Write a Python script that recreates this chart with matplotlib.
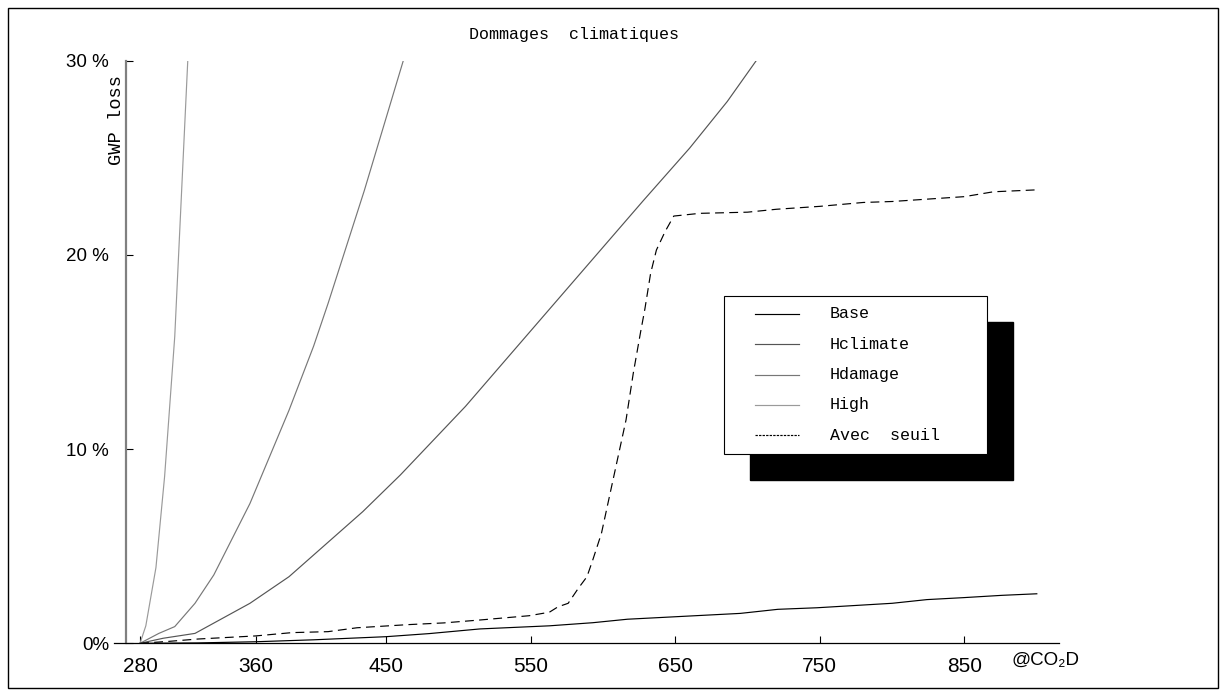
import matplotlib
matplotlib.use("Agg")
import matplotlib.pyplot as plt
from matplotlib.patches import Rectangle
from matplotlib.lines import Line2D

# data (x = CO2 ppm, y = GWP loss in %)
co2_base = [280, 320, 360, 400, 450, 480, 515, 563, 593, 617, 643, 695, 721, 748, 800, 824, 849, 876, 900]
base = [0, 0.02, 0.08, 0.18, 0.34, 0.5, 0.74, 0.9, 1.06, 1.24, 1.34, 1.54, 1.75, 1.83, 2.06, 2.25, 2.35, 2.47, 2.55]

co2_hclimate = [280, 296, 318, 356, 383, 434, 460, 505, 563, 628, 660, 686, 706]
hclimate = [0, 0.26, 0.51, 2.06, 3.43, 6.78, 8.67, 12.2, 17.2, 22.8, 25.5, 27.9, 30.0]

co2_hdamage = [280, 293, 304, 318, 331, 356, 383, 400, 410, 435, 462]
hdamage = [0, 0.51, 0.86, 2.06, 3.52, 7.2, 12.0, 15.3, 17.5, 23.3, 30.0]

co2_high = [280, 284, 291, 297, 304, 313]
high = [0, 0.9, 3.9, 8.6, 15.8, 30.0]

co2_seuil = [280, 300, 320, 340, 360, 385, 410, 430, 465, 490, 515, 549, 563, 569, 576,
             583, 589, 593, 599, 604, 610, 616, 621, 626, 629, 633, 637, 643, 649, 667,
             700, 720, 750, 780, 800, 830, 850, 870, 900]
seuil = [0, 0.1, 0.22, 0.3, 0.38, 0.55, 0.6, 0.8, 0.96, 1.05, 1.2, 1.42, 1.6, 1.88, 2.06,
         2.83, 3.43, 4.29, 5.66, 7.38, 9.44, 11.5, 13.9, 16.0, 17.2, 19.05, 20.25, 21.2, 22.0, 22.14,
         22.2, 22.35, 22.5, 22.7, 22.75, 22.9, 23.0, 23.25, 23.35]

labels = ["Base", "Hclimate", "Hdamage", "High", "Avec  seuil"]
colours = ["black", "#555555", "#777777", "#9a9a9a", "black"]
styles = ["-", "-", "-", "-", (0, (7.5, 4.5))]
legend_styles = ["-", "-", "-", "-", (0, (2, 1))]

xticks = [280, 360, 450, 550, 650, 750, 850]
yticks = [0, 10, 20, 30]
ytick_labels = ["0%", "10 %", "20 %", "30 %"]

W, H = 1226, 696
fig = plt.figure(figsize=(W / 100, H / 100), dpi=100)
ax = fig.add_axes([114 / W, 52.7 / H, 944.5 / W, 582.6 / H])

series = [(co2_base, base), (co2_hclimate, hclimate), (co2_hdamage, hdamage),
          (co2_high, high), (co2_seuil, seuil)]
for i in range(len(series)):
    x, y = series[i]
    ax.plot(x, y, color=colours[i], linestyle=styles[i], lw=0.85)

ax.set_xlim(262, 915)
ax.set_ylim(0, 30)

for s in ["top", "right"]:
    ax.spines[s].set_visible(False)
ax.spines["left"].set_position(("data", 270))
ax.spines["left"].set_color("#808080")
ax.spines["left"].set_linewidth(1.6)
ax.spines["bottom"].set_linewidth(0.9)

tick_font = ["Liberation Sans Narrow", "Liberation Sans"]
ax.set_xticks(xticks)
ax.set_xticklabels([str(t) for t in xticks], family=tick_font, fontsize=15)
ax.set_yticks(yticks)
ax.set_yticklabels(ytick_labels, family=tick_font, fontsize=13.5)
ax.tick_params(axis="x", direction="in", length=5, width=0.8, pad=10)
ax.tick_params(axis="y", direction="in", length=5, width=0.8, pad=12, color="black")

ax.set_xlabel("@CO₂D", family=tick_font, fontsize=13.5, ha="left", va="center")
ax.xaxis.set_label_coords(0.95, -0.030)

ax.text(0.012, 0.975, "GWP loss", transform=ax.transAxes, rotation=90, family="Liberation Mono",
        fontsize=13.5, ha="right", va="top")
fig.text(574 / W, 1 - 35 / H, "Dommages  climatiques", family="Liberation Mono",
         fontsize=12, ha="center", va="center")

# legend with solid black shadow
fig.patches.append(Rectangle((750 / W, 1 - 480 / H), 263 / W, 158 / H, transform=fig.transFigure,
                             facecolor="black", edgecolor="black", zorder=5))
fig.patches.append(Rectangle((724 / W, 1 - 454 / H), 263 / W, 158 / H, transform=fig.transFigure,
                             facecolor="white", edgecolor="black", lw=0.8, zorder=6))
for i in range(len(labels)):
    yy = 1 - (314 + i * 30.3) / H
    fig.lines.append(Line2D([755 / W, 799 / W], [yy, yy], transform=fig.transFigure,
                            color=colours[i], linestyle=legend_styles[i], lw=0.85, zorder=7))
    fig.text(830 / W, yy, labels[i], family="Liberation Mono", fontsize=12,
             ha="left", va="center", zorder=7)

# outer frame
fig.patches.append(Rectangle((8 / W, 8 / H), 1210 / W, 680 / H, transform=fig.transFigure,
                             facecolor="none", edgecolor="black", lw=1.0, zorder=8))

fig.savefig("out.png", dpi=100)
